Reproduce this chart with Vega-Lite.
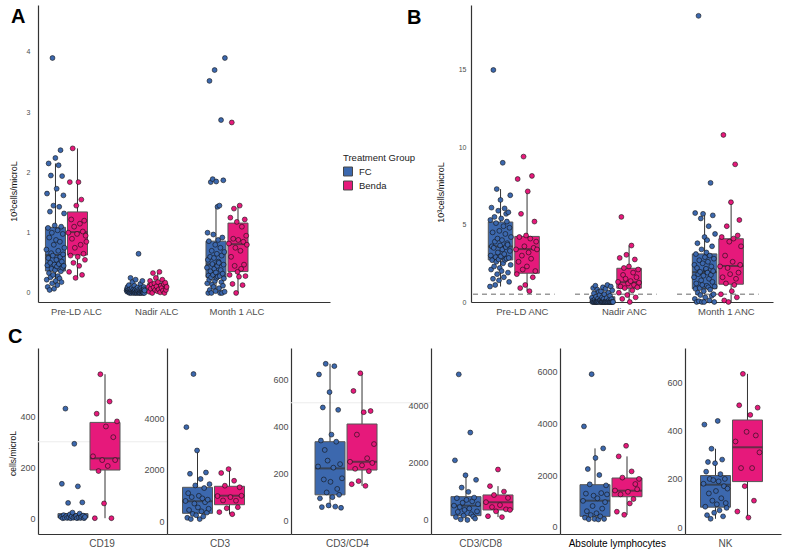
{
"$schema":"https://vega.github.io/schema/vega-lite/v6.json",
"padding":{"left":8,"top":5,"right":5,"bottom":5},
"background":"white",
"spacing":11,
"datasets":{
"boxA":[
{"c":"Pre-LD ALC","g":"FC","lo":0.05,"q1":0.365,"md":0.63,"q3":1.09,"hi":2.15},
{"c":"Pre-LD ALC","g":"Benda","lo":0.25,"q1":0.63,"md":1.01,"q3":1.345,"hi":2.4},
{"c":"Nadir ALC","g":"FC","lo":0,"q1":0,"md":0.03,"q3":0.06,"hi":0.15},
{"c":"Nadir ALC","g":"Benda","lo":0,"q1":0.05,"md":0.1,"q3":0.16,"hi":0.33},
{"c":"Month 1 ALC","g":"FC","lo":0,"q1":0.26,"md":0.475,"q3":0.86,"hi":1.43},
{"c":"Month 1 ALC","g":"Benda","lo":0,"q1":0.355,"md":0.81,"q3":1.16,"hi":1.45}
],
"boxB":[
{"c":"Pre-LD ANC","g":"FC","lo":1.0,"q1":2.72,"md":3.59,"q3":5.17,"hi":7.3},
{"c":"Pre-LD ANC","g":"Benda","lo":0.7,"q1":1.86,"md":3.42,"q3":4.24,"hi":7.15},
{"c":"Nadir ANC","g":"FC","lo":0,"q1":0,"md":0.05,"q3":0.34,"hi":0.8},
{"c":"Nadir ANC","g":"Benda","lo":0,"q1":0.89,"md":1.28,"q3":2.18,"hi":3.65},
{"c":"Month 1 ANC","g":"FC","lo":0,"q1":0.86,"md":1.93,"q3":3.11,"hi":5.75},
{"c":"Month 1 ANC","g":"Benda","lo":0,"q1":1.15,"md":2.33,"q3":4.09,"hi":6.45}
],
"boxC":[
{"c":"CD19","g":"FC","lo":0,"q1":2,"md":7,"q3":18,"hi":22},
{"c":"CD19","g":"Benda","lo":0,"q1":189,"md":235,"q3":376,"hi":565},
{"c":"CD3","g":"FC","lo":100,"q1":324,"md":788,"q3":1328,"hi":2750},
{"c":"CD3","g":"Benda","lo":290,"q1":656,"md":1004,"q3":1367,"hi":2030},
{"c":"CD3/CD4","g":"FC","lo":55,"q1":110,"md":222,"q3":335,"hi":665},
{"c":"CD3/CD4","g":"Benda","lo":148,"q1":215,"md":250,"q3":410,"hi":625},
{"c":"CD3/CD8","g":"FC","lo":0,"q1":150,"md":499,"q3":813,"hi":1560},
{"c":"CD3/CD8","g":"Benda","lo":100,"q1":349,"md":618,"q3":872,"hi":1180},
{"c":"Absolute lymphocytes","g":"FC","lo":280,"q1":402,"md":1006,"q3":1625,"hi":3030},
{"c":"Absolute lymphocytes","g":"Benda","lo":460,"q1":1160,"md":1393,"q3":1884,"hi":2720},
{"c":"NK","g":"FC","lo":35,"q1":83,"md":176,"q3":214,"hi":325},
{"c":"NK","g":"Benda","lo":40,"q1":189,"md":331,"q3":444,"hi":635}
],
"ptsA":[
{"c":"Pre-LD ALC","g":"FC","v":0.72},{"c":"Pre-LD ALC","g":"FC","v":0.22},{"c":"Pre-LD ALC","g":"FC","v":1.65},{"c":"Pre-LD ALC","g":"FC","v":0.46},{"c":"Pre-LD ALC","g":"FC","v":0.1},{"c":"Pre-LD ALC","g":"FC","v":1.08},{"c":"Pre-LD ALC","g":"FC","v":0.58},{"c":"Pre-LD ALC","g":"FC","v":2.15},{"c":"Pre-LD ALC","g":"FC","v":0.33},{"c":"Pre-LD ALC","g":"FC","v":0.92},
{"c":"Pre-LD ALC","g":"FC","v":0.05},{"c":"Pre-LD ALC","g":"FC","v":1.35},{"c":"Pre-LD ALC","g":"FC","v":0.5},{"c":"Pre-LD ALC","g":"FC","v":0.26},{"c":"Pre-LD ALC","g":"FC","v":1.95},{"c":"Pre-LD ALC","g":"FC","v":0.66},{"c":"Pre-LD ALC","g":"FC","v":0.4},{"c":"Pre-LD ALC","g":"FC","v":1.0},{"c":"Pre-LD ALC","g":"FC","v":0.16},{"c":"Pre-LD ALC","g":"FC","v":3.9},
{"c":"Pre-LD ALC","g":"FC","v":0.62},{"c":"Pre-LD ALC","g":"FC","v":0.3},{"c":"Pre-LD ALC","g":"FC","v":1.45},{"c":"Pre-LD ALC","g":"FC","v":0.8},{"c":"Pre-LD ALC","g":"FC","v":0.07},{"c":"Pre-LD ALC","g":"FC","v":0.47},{"c":"Pre-LD ALC","g":"FC","v":1.12},{"c":"Pre-LD ALC","g":"FC","v":0.38},{"c":"Pre-LD ALC","g":"FC","v":2.24},{"c":"Pre-LD ALC","g":"FC","v":0.2},
{"c":"Pre-LD ALC","g":"FC","v":0.88},{"c":"Pre-LD ALC","g":"FC","v":0.55},{"c":"Pre-LD ALC","g":"FC","v":1.73},{"c":"Pre-LD ALC","g":"FC","v":0.44},{"c":"Pre-LD ALC","g":"FC","v":0.13},{"c":"Pre-LD ALC","g":"FC","v":1.04},{"c":"Pre-LD ALC","g":"FC","v":0.28},{"c":"Pre-LD ALC","g":"FC","v":0.7},{"c":"Pre-LD ALC","g":"FC","v":2.12},{"c":"Pre-LD ALC","g":"FC","v":0.48},
{"c":"Pre-LD ALC","g":"FC","v":1.43},{"c":"Pre-LD ALC","g":"FC","v":0.24},{"c":"Pre-LD ALC","g":"FC","v":0.85},{"c":"Pre-LD ALC","g":"FC","v":0.6},{"c":"Pre-LD ALC","g":"FC","v":2.37},{"c":"Pre-LD ALC","g":"FC","v":0.36},{"c":"Pre-LD ALC","g":"FC","v":1.1},{"c":"Pre-LD ALC","g":"FC","v":0.18},{"c":"Pre-LD ALC","g":"FC","v":0.52},{"c":"Pre-LD ALC","g":"FC","v":1.94},
{"c":"Pre-LD ALC","g":"FC","v":0.42},{"c":"Pre-LD ALC","g":"FC","v":0.98},{"c":"Pre-LD ALC","g":"FC","v":0.64},{"c":"Pre-LD ALC","g":"FC","v":1.62},{"c":"Pre-LD ALC","g":"FC","v":0.45},{"c":"Pre-LD ALC","g":"FC","v":1.32},{"c":"Pre-LD ALC","g":"FC","v":0.75},
{"c":"Pre-LD ALC","g":"Benda","v":1.0},{"c":"Pre-LD ALC","g":"Benda","v":0.35},{"c":"Pre-LD ALC","g":"Benda","v":1.84},{"c":"Pre-LD ALC","g":"Benda","v":0.62},{"c":"Pre-LD ALC","g":"Benda","v":1.22},{"c":"Pre-LD ALC","g":"Benda","v":0.9},{"c":"Pre-LD ALC","g":"Benda","v":2.4},{"c":"Pre-LD ALC","g":"Benda","v":0.5},{"c":"Pre-LD ALC","g":"Benda","v":1.1},{"c":"Pre-LD ALC","g":"Benda","v":0.75},
{"c":"Pre-LD ALC","g":"Benda","v":0.25},{"c":"Pre-LD ALC","g":"Benda","v":1.45},{"c":"Pre-LD ALC","g":"Benda","v":0.98},{"c":"Pre-LD ALC","g":"Benda","v":0.6},{"c":"Pre-LD ALC","g":"Benda","v":1.84},{"c":"Pre-LD ALC","g":"Benda","v":0.45},{"c":"Pre-LD ALC","g":"Benda","v":1.15},{"c":"Pre-LD ALC","g":"Benda","v":0.8},{"c":"Pre-LD ALC","g":"Benda","v":1.55},{"c":"Pre-LD ALC","g":"Benda","v":0.3},
{"c":"Pre-LD ALC","g":"Benda","v":1.02},{"c":"Pre-LD ALC","g":"Benda","v":0.65},{"c":"Pre-LD ALC","g":"Benda","v":1.2},{"c":"Pre-LD ALC","g":"Benda","v":0.55},{"c":"Pre-LD ALC","g":"Benda","v":0.95},{"c":"Pre-LD ALC","g":"Benda","v":0.85},
{"c":"Nadir ALC","g":"FC","v":0.04},{"c":"Nadir ALC","g":"FC","v":0.07},{"c":"Nadir ALC","g":"FC","v":0.02},{"c":"Nadir ALC","g":"FC","v":0.1},{"c":"Nadir ALC","g":"FC","v":0.04},{"c":"Nadir ALC","g":"FC","v":0.05},{"c":"Nadir ALC","g":"FC","v":0.02},{"c":"Nadir ALC","g":"FC","v":0.13},{"c":"Nadir ALC","g":"FC","v":0.03},{"c":"Nadir ALC","g":"FC","v":0},
{"c":"Nadir ALC","g":"FC","v":0.06},{"c":"Nadir ALC","g":"FC","v":0.01},{"c":"Nadir ALC","g":"FC","v":0.25},{"c":"Nadir ALC","g":"FC","v":0.03},{"c":"Nadir ALC","g":"FC","v":0.05},{"c":"Nadir ALC","g":"FC","v":0},{"c":"Nadir ALC","g":"FC","v":0.08},{"c":"Nadir ALC","g":"FC","v":0.02},{"c":"Nadir ALC","g":"FC","v":0.18},{"c":"Nadir ALC","g":"FC","v":0.04},
{"c":"Nadir ALC","g":"FC","v":0.01},{"c":"Nadir ALC","g":"FC","v":0.06},{"c":"Nadir ALC","g":"FC","v":0},{"c":"Nadir ALC","g":"FC","v":0.02},{"c":"Nadir ALC","g":"FC","v":0.12},{"c":"Nadir ALC","g":"FC","v":0.03},{"c":"Nadir ALC","g":"FC","v":0.05},{"c":"Nadir ALC","g":"FC","v":0},{"c":"Nadir ALC","g":"FC","v":0.22},{"c":"Nadir ALC","g":"FC","v":0.01},
{"c":"Nadir ALC","g":"FC","v":0.07},{"c":"Nadir ALC","g":"FC","v":0.02},{"c":"Nadir ALC","g":"FC","v":0},{"c":"Nadir ALC","g":"FC","v":0.05},{"c":"Nadir ALC","g":"FC","v":0.09},{"c":"Nadir ALC","g":"FC","v":0.01},{"c":"Nadir ALC","g":"FC","v":0.03},{"c":"Nadir ALC","g":"FC","v":0.65},{"c":"Nadir ALC","g":"FC","v":0},{"c":"Nadir ALC","g":"FC","v":0.06},
{"c":"Nadir ALC","g":"FC","v":0.01},{"c":"Nadir ALC","g":"FC","v":0.04},{"c":"Nadir ALC","g":"FC","v":0},{"c":"Nadir ALC","g":"FC","v":0.15},{"c":"Nadir ALC","g":"FC","v":0.03},{"c":"Nadir ALC","g":"FC","v":0.08},{"c":"Nadir ALC","g":"FC","v":0},{"c":"Nadir ALC","g":"FC","v":0.02},{"c":"Nadir ALC","g":"FC","v":0.05},{"c":"Nadir ALC","g":"FC","v":0.2},
{"c":"Nadir ALC","g":"FC","v":0.03},{"c":"Nadir ALC","g":"FC","v":0.01},{"c":"Nadir ALC","g":"FC","v":0},{"c":"Nadir ALC","g":"FC","v":0.1},{"c":"Nadir ALC","g":"FC","v":0.06},{"c":"Nadir ALC","g":"FC","v":0},{"c":"Nadir ALC","g":"FC","v":0.04},
{"c":"Nadir ALC","g":"Benda","v":0.1},{"c":"Nadir ALC","g":"Benda","v":0.02},{"c":"Nadir ALC","g":"Benda","v":0.2},{"c":"Nadir ALC","g":"Benda","v":0.07},{"c":"Nadir ALC","g":"Benda","v":0.14},{"c":"Nadir ALC","g":"Benda","v":0},{"c":"Nadir ALC","g":"Benda","v":0.33},{"c":"Nadir ALC","g":"Benda","v":0.09},{"c":"Nadir ALC","g":"Benda","v":0.16},{"c":"Nadir ALC","g":"Benda","v":0.05},
{"c":"Nadir ALC","g":"Benda","v":0.25},{"c":"Nadir ALC","g":"Benda","v":0.11},{"c":"Nadir ALC","g":"Benda","v":0.03},{"c":"Nadir ALC","g":"Benda","v":0.18},{"c":"Nadir ALC","g":"Benda","v":0.06},{"c":"Nadir ALC","g":"Benda","v":0.35},{"c":"Nadir ALC","g":"Benda","v":0.01},{"c":"Nadir ALC","g":"Benda","v":0.12},{"c":"Nadir ALC","g":"Benda","v":0.08},{"c":"Nadir ALC","g":"Benda","v":0.22},
{"c":"Nadir ALC","g":"Benda","v":0.04},{"c":"Nadir ALC","g":"Benda","v":0.15},{"c":"Nadir ALC","g":"Benda","v":0},{"c":"Nadir ALC","g":"Benda","v":0.17},{"c":"Nadir ALC","g":"Benda","v":0.05},{"c":"Nadir ALC","g":"Benda","v":0.1},
{"c":"Month 1 ALC","g":"FC","v":0.42},{"c":"Month 1 ALC","g":"FC","v":0.16},{"c":"Month 1 ALC","g":"FC","v":1.0},{"c":"Month 1 ALC","g":"FC","v":0.55},{"c":"Month 1 ALC","g":"FC","v":0},{"c":"Month 1 ALC","g":"FC","v":0.29},{"c":"Month 1 ALC","g":"FC","v":0.86},{"c":"Month 1 ALC","g":"FC","v":0.22},{"c":"Month 1 ALC","g":"FC","v":3.52},{"c":"Month 1 ALC","g":"FC","v":0.05},
{"c":"Month 1 ALC","g":"FC","v":0.6},{"c":"Month 1 ALC","g":"FC","v":0.36},{"c":"Month 1 ALC","g":"FC","v":1.84},{"c":"Month 1 ALC","g":"FC","v":0.26},{"c":"Month 1 ALC","g":"FC","v":0},{"c":"Month 1 ALC","g":"FC","v":0.7},{"c":"Month 1 ALC","g":"FC","v":0.14},{"c":"Month 1 ALC","g":"FC","v":0.48},{"c":"Month 1 ALC","g":"FC","v":1.89},{"c":"Month 1 ALC","g":"FC","v":0.3},
{"c":"Month 1 ALC","g":"FC","v":0.97},{"c":"Month 1 ALC","g":"FC","v":0.1},{"c":"Month 1 ALC","g":"FC","v":0.58},{"c":"Month 1 ALC","g":"FC","v":0.4},{"c":"Month 1 ALC","g":"FC","v":3.7},{"c":"Month 1 ALC","g":"FC","v":0.2},{"c":"Month 1 ALC","g":"FC","v":0.8},{"c":"Month 1 ALC","g":"FC","v":0.03},{"c":"Month 1 ALC","g":"FC","v":0.34},{"c":"Month 1 ALC","g":"FC","v":1.85},
{"c":"Month 1 ALC","g":"FC","v":0.25},{"c":"Month 1 ALC","g":"FC","v":0.65},{"c":"Month 1 ALC","g":"FC","v":0.45},{"c":"Month 1 ALC","g":"FC","v":1.43},{"c":"Month 1 ALC","g":"FC","v":0.27},{"c":"Month 1 ALC","g":"FC","v":0.88},{"c":"Month 1 ALC","g":"FC","v":0.52},{"c":"Month 1 ALC","g":"FC","v":0.5},{"c":"Month 1 ALC","g":"FC","v":0.08},{"c":"Month 1 ALC","g":"FC","v":1.45},
{"c":"Month 1 ALC","g":"FC","v":0.28},{"c":"Month 1 ALC","g":"FC","v":0},{"c":"Month 1 ALC","g":"FC","v":0.75},{"c":"Month 1 ALC","g":"FC","v":0.38},{"c":"Month 1 ALC","g":"FC","v":2.87},{"c":"Month 1 ALC","g":"FC","v":0.18},{"c":"Month 1 ALC","g":"FC","v":0.62},{"c":"Month 1 ALC","g":"FC","v":0},{"c":"Month 1 ALC","g":"FC","v":0.92},{"c":"Month 1 ALC","g":"FC","v":0.32},
{"c":"Month 1 ALC","g":"FC","v":0.12},{"c":"Month 1 ALC","g":"FC","v":1.87},{"c":"Month 1 ALC","g":"FC","v":0.47},{"c":"Month 1 ALC","g":"FC","v":0.24},{"c":"Month 1 ALC","g":"FC","v":0.68},{"c":"Month 1 ALC","g":"FC","v":0.02},{"c":"Month 1 ALC","g":"FC","v":3.9},
{"c":"Month 1 ALC","g":"Benda","v":0.82},{"c":"Month 1 ALC","g":"Benda","v":0.3},{"c":"Month 1 ALC","g":"Benda","v":1.25},{"c":"Month 1 ALC","g":"Benda","v":0.6},{"c":"Month 1 ALC","g":"Benda","v":2.83},{"c":"Month 1 ALC","g":"Benda","v":0.15},{"c":"Month 1 ALC","g":"Benda","v":0.9},{"c":"Month 1 ALC","g":"Benda","v":1.4},{"c":"Month 1 ALC","g":"Benda","v":0.45},{"c":"Month 1 ALC","g":"Benda","v":0.75},
{"c":"Month 1 ALC","g":"Benda","v":0},{"c":"Month 1 ALC","g":"Benda","v":1.18},{"c":"Month 1 ALC","g":"Benda","v":0.35},{"c":"Month 1 ALC","g":"Benda","v":0.88},{"c":"Month 1 ALC","g":"Benda","v":0.27},{"c":"Month 1 ALC","g":"Benda","v":1.45},{"c":"Month 1 ALC","g":"Benda","v":0.7},{"c":"Month 1 ALC","g":"Benda","v":0.4},{"c":"Month 1 ALC","g":"Benda","v":1.1},{"c":"Month 1 ALC","g":"Benda","v":0.13},
{"c":"Month 1 ALC","g":"Benda","v":0.85},{"c":"Month 1 ALC","g":"Benda","v":0.47},{"c":"Month 1 ALC","g":"Benda","v":1.22},{"c":"Month 1 ALC","g":"Benda","v":0.28},{"c":"Month 1 ALC","g":"Benda","v":0.95},{"c":"Month 1 ALC","g":"Benda","v":0.8}
],
"ptsB":[
{"c":"Pre-LD ANC","g":"FC","v":1.0},{"c":"Pre-LD ANC","g":"FC","v":5.3},{"c":"Pre-LD ANC","g":"FC","v":3.0},{"c":"Pre-LD ANC","g":"FC","v":2.1},{"c":"Pre-LD ANC","g":"FC","v":6.1},{"c":"Pre-LD ANC","g":"FC","v":3.6},{"c":"Pre-LD ANC","g":"FC","v":2.7},{"c":"Pre-LD ANC","g":"FC","v":4.5},{"c":"Pre-LD ANC","g":"FC","v":1.5},{"c":"Pre-LD ANC","g":"FC","v":15.0},
{"c":"Pre-LD ANC","g":"FC","v":3.5},{"c":"Pre-LD ANC","g":"FC","v":2.3},{"c":"Pre-LD ANC","g":"FC","v":5.5},{"c":"Pre-LD ANC","g":"FC","v":3.9},{"c":"Pre-LD ANC","g":"FC","v":1.1},{"c":"Pre-LD ANC","g":"FC","v":2.9},{"c":"Pre-LD ANC","g":"FC","v":5.1},{"c":"Pre-LD ANC","g":"FC","v":2.6},{"c":"Pre-LD ANC","g":"FC","v":7.3},{"c":"Pre-LD ANC","g":"FC","v":1.8},
{"c":"Pre-LD ANC","g":"FC","v":4.1},{"c":"Pre-LD ANC","g":"FC","v":3.2},{"c":"Pre-LD ANC","g":"FC","v":5.9},{"c":"Pre-LD ANC","g":"FC","v":2.75},{"c":"Pre-LD ANC","g":"FC","v":1.4},{"c":"Pre-LD ANC","g":"FC","v":4.6},{"c":"Pre-LD ANC","g":"FC","v":2.2},{"c":"Pre-LD ANC","g":"FC","v":3.65},{"c":"Pre-LD ANC","g":"FC","v":6.6},{"c":"Pre-LD ANC","g":"FC","v":2.95},
{"c":"Pre-LD ANC","g":"FC","v":5.4},{"c":"Pre-LD ANC","g":"FC","v":2.0},{"c":"Pre-LD ANC","g":"FC","v":4.0},{"c":"Pre-LD ANC","g":"FC","v":3.4},{"c":"Pre-LD ANC","g":"FC","v":9.0},{"c":"Pre-LD ANC","g":"FC","v":2.5},{"c":"Pre-LD ANC","g":"FC","v":4.9},{"c":"Pre-LD ANC","g":"FC","v":1.6},{"c":"Pre-LD ANC","g":"FC","v":3.1},{"c":"Pre-LD ANC","g":"FC","v":6.05},
{"c":"Pre-LD ANC","g":"FC","v":2.72},{"c":"Pre-LD ANC","g":"FC","v":4.4},{"c":"Pre-LD ANC","g":"FC","v":3.55},{"c":"Pre-LD ANC","g":"FC","v":5.7},{"c":"Pre-LD ANC","g":"FC","v":2.8},{"c":"Pre-LD ANC","g":"FC","v":5.2},{"c":"Pre-LD ANC","g":"FC","v":3.8},{"c":"Pre-LD ANC","g":"FC","v":3.7},{"c":"Pre-LD ANC","g":"FC","v":1.9},{"c":"Pre-LD ANC","g":"FC","v":5.8},
{"c":"Pre-LD ANC","g":"FC","v":2.85},{"c":"Pre-LD ANC","g":"FC","v":1.3},{"c":"Pre-LD ANC","g":"FC","v":4.8},{"c":"Pre-LD ANC","g":"FC","v":3.3},{"c":"Pre-LD ANC","g":"FC","v":6.9},{"c":"Pre-LD ANC","g":"FC","v":2.4},{"c":"Pre-LD ANC","g":"FC","v":4.2},
{"c":"Pre-LD ANC","g":"Benda","v":3.4},{"c":"Pre-LD ANC","g":"Benda","v":1.8},{"c":"Pre-LD ANC","g":"Benda","v":7.95},{"c":"Pre-LD ANC","g":"Benda","v":2.6},{"c":"Pre-LD ANC","g":"Benda","v":4.2},{"c":"Pre-LD ANC","g":"Benda","v":0.9},{"c":"Pre-LD ANC","g":"Benda","v":5.7},{"c":"Pre-LD ANC","g":"Benda","v":3.0},{"c":"Pre-LD ANC","g":"Benda","v":2.1},{"c":"Pre-LD ANC","g":"Benda","v":9.4},
{"c":"Pre-LD ANC","g":"Benda","v":3.6},{"c":"Pre-LD ANC","g":"Benda","v":1.1},{"c":"Pre-LD ANC","g":"Benda","v":4.3},{"c":"Pre-LD ANC","g":"Benda","v":2.3},{"c":"Pre-LD ANC","g":"Benda","v":7.15},{"c":"Pre-LD ANC","g":"Benda","v":3.2},{"c":"Pre-LD ANC","g":"Benda","v":0.7},{"c":"Pre-LD ANC","g":"Benda","v":4.1},{"c":"Pre-LD ANC","g":"Benda","v":2.8},{"c":"Pre-LD ANC","g":"Benda","v":8.15},
{"c":"Pre-LD ANC","g":"Benda","v":1.6},{"c":"Pre-LD ANC","g":"Benda","v":3.5},{"c":"Pre-LD ANC","g":"Benda","v":5.2},{"c":"Pre-LD ANC","g":"Benda","v":2.0},{"c":"Pre-LD ANC","g":"Benda","v":3.9},{"c":"Pre-LD ANC","g":"Benda","v":3.4},
{"c":"Nadir ANC","g":"FC","v":0.28},{"c":"Nadir ANC","g":"FC","v":0},{"c":"Nadir ANC","g":"FC","v":0.08},{"c":"Nadir ANC","g":"FC","v":0.9},{"c":"Nadir ANC","g":"FC","v":0},{"c":"Nadir ANC","g":"FC","v":0.55},{"c":"Nadir ANC","g":"FC","v":0},{"c":"Nadir ANC","g":"FC","v":0.15},{"c":"Nadir ANC","g":"FC","v":0.02},{"c":"Nadir ANC","g":"FC","v":1.05},
{"c":"Nadir ANC","g":"FC","v":0},{"c":"Nadir ANC","g":"FC","v":0.35},{"c":"Nadir ANC","g":"FC","v":0},{"c":"Nadir ANC","g":"FC","v":0.01},{"c":"Nadir ANC","g":"FC","v":0.8},{"c":"Nadir ANC","g":"FC","v":0},{"c":"Nadir ANC","g":"FC","v":0.22},{"c":"Nadir ANC","g":"FC","v":0.04},{"c":"Nadir ANC","g":"FC","v":0.65},{"c":"Nadir ANC","g":"FC","v":0},
{"c":"Nadir ANC","g":"FC","v":0.45},{"c":"Nadir ANC","g":"FC","v":0.1},{"c":"Nadir ANC","g":"FC","v":0.1},{"c":"Nadir ANC","g":"FC","v":0},{"c":"Nadir ANC","g":"FC","v":0.7},{"c":"Nadir ANC","g":"FC","v":0},{"c":"Nadir ANC","g":"FC","v":0},{"c":"Nadir ANC","g":"FC","v":0.3},{"c":"Nadir ANC","g":"FC","v":0.02},{"c":"Nadir ANC","g":"FC","v":0.95},
{"c":"Nadir ANC","g":"FC","v":0},{"c":"Nadir ANC","g":"FC","v":0.2},{"c":"Nadir ANC","g":"FC","v":0},{"c":"Nadir ANC","g":"FC","v":0.5},{"c":"Nadir ANC","g":"FC","v":0},{"c":"Nadir ANC","g":"FC","v":0},{"c":"Nadir ANC","g":"FC","v":0.85},{"c":"Nadir ANC","g":"FC","v":0.05},{"c":"Nadir ANC","g":"FC","v":0},{"c":"Nadir ANC","g":"FC","v":0.25},
{"c":"Nadir ANC","g":"FC","v":0},{"c":"Nadir ANC","g":"FC","v":1.1},{"c":"Nadir ANC","g":"FC","v":0.03},{"c":"Nadir ANC","g":"FC","v":0},{"c":"Nadir ANC","g":"FC","v":0.6},{"c":"Nadir ANC","g":"FC","v":0.12},{"c":"Nadir ANC","g":"FC","v":0},{"c":"Nadir ANC","g":"FC","v":0},{"c":"Nadir ANC","g":"FC","v":0.4},{"c":"Nadir ANC","g":"FC","v":0},
{"c":"Nadir ANC","g":"FC","v":1.0},{"c":"Nadir ANC","g":"FC","v":0},{"c":"Nadir ANC","g":"FC","v":0.18},{"c":"Nadir ANC","g":"FC","v":0.01},{"c":"Nadir ANC","g":"FC","v":0.75},{"c":"Nadir ANC","g":"FC","v":0},{"c":"Nadir ANC","g":"FC","v":0},
{"c":"Nadir ANC","g":"Benda","v":1.3},{"c":"Nadir ANC","g":"Benda","v":0.6},{"c":"Nadir ANC","g":"Benda","v":2.85},{"c":"Nadir ANC","g":"Benda","v":1.0},{"c":"Nadir ANC","g":"Benda","v":5.5},{"c":"Nadir ANC","g":"Benda","v":0.2},{"c":"Nadir ANC","g":"Benda","v":1.75},{"c":"Nadir ANC","g":"Benda","v":2.2},{"c":"Nadir ANC","g":"Benda","v":0.9},{"c":"Nadir ANC","g":"Benda","v":1.5},
{"c":"Nadir ANC","g":"Benda","v":3.05},{"c":"Nadir ANC","g":"Benda","v":0.45},{"c":"Nadir ANC","g":"Benda","v":1.2},{"c":"Nadir ANC","g":"Benda","v":2.3},{"c":"Nadir ANC","g":"Benda","v":0},{"c":"Nadir ANC","g":"Benda","v":1.35},{"c":"Nadir ANC","g":"Benda","v":3.65},{"c":"Nadir ANC","g":"Benda","v":0.75},{"c":"Nadir ANC","g":"Benda","v":1.9},{"c":"Nadir ANC","g":"Benda","v":1.1},
{"c":"Nadir ANC","g":"Benda","v":2.75},{"c":"Nadir ANC","g":"Benda","v":0.3},{"c":"Nadir ANC","g":"Benda","v":1.6},{"c":"Nadir ANC","g":"Benda","v":0.95},{"c":"Nadir ANC","g":"Benda","v":2.1},{"c":"Nadir ANC","g":"Benda","v":1.25},
{"c":"Month 1 ANC","g":"FC","v":1.6},{"c":"Month 1 ANC","g":"FC","v":2.4},{"c":"Month 1 ANC","g":"FC","v":0.2},{"c":"Month 1 ANC","g":"FC","v":5.75},{"c":"Month 1 ANC","g":"FC","v":0.85},{"c":"Month 1 ANC","g":"FC","v":3.1},{"c":"Month 1 ANC","g":"FC","v":1.2},{"c":"Month 1 ANC","g":"FC","v":0},{"c":"Month 1 ANC","g":"FC","v":2.2},{"c":"Month 1 ANC","g":"FC","v":3.8},
{"c":"Month 1 ANC","g":"FC","v":0.6},{"c":"Month 1 ANC","g":"FC","v":1.8},{"c":"Month 1 ANC","g":"FC","v":18.5},{"c":"Month 1 ANC","g":"FC","v":0.05},{"c":"Month 1 ANC","g":"FC","v":2.7},{"c":"Month 1 ANC","g":"FC","v":0.9},{"c":"Month 1 ANC","g":"FC","v":1.95},{"c":"Month 1 ANC","g":"FC","v":0.45},{"c":"Month 1 ANC","g":"FC","v":5.4},{"c":"Month 1 ANC","g":"FC","v":1.4},
{"c":"Month 1 ANC","g":"FC","v":3.4},{"c":"Month 1 ANC","g":"FC","v":0},{"c":"Month 1 ANC","g":"FC","v":1.1},{"c":"Month 1 ANC","g":"FC","v":2.5},{"c":"Month 1 ANC","g":"FC","v":5.7},{"c":"Month 1 ANC","g":"FC","v":1.7},{"c":"Month 1 ANC","g":"FC","v":0.7},{"c":"Month 1 ANC","g":"FC","v":0},{"c":"Month 1 ANC","g":"FC","v":4.2},{"c":"Month 1 ANC","g":"FC","v":2.9},
{"c":"Month 1 ANC","g":"FC","v":0.3},{"c":"Month 1 ANC","g":"FC","v":2.1},{"c":"Month 1 ANC","g":"FC","v":2.15},{"c":"Month 1 ANC","g":"FC","v":3.2},{"c":"Month 1 ANC","g":"FC","v":1.05},{"c":"Month 1 ANC","g":"FC","v":4.0},{"c":"Month 1 ANC","g":"FC","v":1.9},{"c":"Month 1 ANC","g":"FC","v":2.6},{"c":"Month 1 ANC","g":"FC","v":0.95},{"c":"Month 1 ANC","g":"FC","v":4.9},
{"c":"Month 1 ANC","g":"FC","v":1.5},{"c":"Month 1 ANC","g":"FC","v":0.1},{"c":"Month 1 ANC","g":"FC","v":3.0},{"c":"Month 1 ANC","g":"FC","v":0.8},{"c":"Month 1 ANC","g":"FC","v":7.7},{"c":"Month 1 ANC","g":"FC","v":1.75},{"c":"Month 1 ANC","g":"FC","v":2.3},{"c":"Month 1 ANC","g":"FC","v":0.4},{"c":"Month 1 ANC","g":"FC","v":3.6},{"c":"Month 1 ANC","g":"FC","v":1.3},
{"c":"Month 1 ANC","g":"FC","v":5.6},{"c":"Month 1 ANC","g":"FC","v":2.0},{"c":"Month 1 ANC","g":"FC","v":0.5},{"c":"Month 1 ANC","g":"FC","v":2.8},{"c":"Month 1 ANC","g":"FC","v":0},{"c":"Month 1 ANC","g":"FC","v":1.0},{"c":"Month 1 ANC","g":"FC","v":4.4},
{"c":"Month 1 ANC","g":"Benda","v":2.3},{"c":"Month 1 ANC","g":"Benda","v":0.5},{"c":"Month 1 ANC","g":"Benda","v":4.2},{"c":"Month 1 ANC","g":"Benda","v":1.6},{"c":"Month 1 ANC","g":"Benda","v":10.8},{"c":"Month 1 ANC","g":"Benda","v":0.1},{"c":"Month 1 ANC","g":"Benda","v":3.0},{"c":"Month 1 ANC","g":"Benda","v":1.2},{"c":"Month 1 ANC","g":"Benda","v":4.9},{"c":"Month 1 ANC","g":"Benda","v":2.2},
{"c":"Month 1 ANC","g":"Benda","v":0},{"c":"Month 1 ANC","g":"Benda","v":3.9},{"c":"Month 1 ANC","g":"Benda","v":1.8},{"c":"Month 1 ANC","g":"Benda","v":6.45},{"c":"Month 1 ANC","g":"Benda","v":0.7},{"c":"Month 1 ANC","g":"Benda","v":2.6},{"c":"Month 1 ANC","g":"Benda","v":4.1},{"c":"Month 1 ANC","g":"Benda","v":1.1},{"c":"Month 1 ANC","g":"Benda","v":8.9},{"c":"Month 1 ANC","g":"Benda","v":1.5},
{"c":"Month 1 ANC","g":"Benda","v":0.3},{"c":"Month 1 ANC","g":"Benda","v":4.3},{"c":"Month 1 ANC","g":"Benda","v":1.9},{"c":"Month 1 ANC","g":"Benda","v":5.3},{"c":"Month 1 ANC","g":"Benda","v":2.4},{"c":"Month 1 ANC","g":"Benda","v":3.6}
],
"ptsC":[
{"c":"CD19","g":"FC","v":5},{"c":"CD19","g":"FC","v":135},{"c":"CD19","g":"FC","v":0},{"c":"CD19","g":"FC","v":12},{"c":"CD19","g":"FC","v":2},{"c":"CD19","g":"FC","v":430},{"c":"CD19","g":"FC","v":8},{"c":"CD19","g":"FC","v":1},{"c":"CD19","g":"FC","v":60},{"c":"CD19","g":"FC","v":3},
{"c":"CD19","g":"FC","v":15},{"c":"CD19","g":"FC","v":0},{"c":"CD19","g":"FC","v":7},{"c":"CD19","g":"FC","v":22},{"c":"CD19","g":"FC","v":2},{"c":"CD19","g":"FC","v":292},{"c":"CD19","g":"FC","v":4},{"c":"CD19","g":"FC","v":9},{"c":"CD19","g":"FC","v":0},{"c":"CD19","g":"FC","v":125},
{"c":"CD19","g":"FC","v":3},{"c":"CD19","g":"FC","v":18},{"c":"CD19","g":"FC","v":1},{"c":"CD19","g":"FC","v":6},{"c":"CD19","g":"FC","v":62},{"c":"CD19","g":"FC","v":10},{"c":"CD19","g":"FC","v":0},{"c":"CD19","g":"FC","v":5},
{"c":"CD19","g":"Benda","v":243},{"c":"CD19","g":"Benda","v":0},{"c":"CD19","g":"Benda","v":410},{"c":"CD19","g":"Benda","v":185},{"c":"CD19","g":"Benda","v":565},{"c":"CD19","g":"Benda","v":228},{"c":"CD19","g":"Benda","v":58},{"c":"CD19","g":"Benda","v":360},{"c":"CD19","g":"Benda","v":205},{"c":"CD19","g":"Benda","v":458},
{"c":"CD19","g":"Benda","v":0},{"c":"CD19","g":"Benda","v":318},{"c":"CD19","g":"Benda","v":228},{"c":"CD19","g":"Benda","v":380},
{"c":"CD3","g":"FC","v":800},{"c":"CD3","g":"FC","v":3650},{"c":"CD3","g":"FC","v":150},{"c":"CD3","g":"FC","v":1100},{"c":"CD3","g":"FC","v":450},{"c":"CD3","g":"FC","v":1850},{"c":"CD3","g":"FC","v":100},{"c":"CD3","g":"FC","v":950},{"c":"CD3","g":"FC","v":300},{"c":"CD3","g":"FC","v":5700},
{"c":"CD3","g":"FC","v":700},{"c":"CD3","g":"FC","v":1400},{"c":"CD3","g":"FC","v":250},{"c":"CD3","g":"FC","v":2750},{"c":"CD3","g":"FC","v":550},{"c":"CD3","g":"FC","v":1000},{"c":"CD3","g":"FC","v":100},{"c":"CD3","g":"FC","v":1650},{"c":"CD3","g":"FC","v":400},{"c":"CD3","g":"FC","v":900},
{"c":"CD3","g":"FC","v":200},{"c":"CD3","g":"FC","v":1300},{"c":"CD3","g":"FC","v":750},{"c":"CD3","g":"FC","v":1900},{"c":"CD3","g":"FC","v":350},{"c":"CD3","g":"FC","v":850},{"c":"CD3","g":"FC","v":500},{"c":"CD3","g":"FC","v":1450},
{"c":"CD3","g":"Benda","v":990},{"c":"CD3","g":"Benda","v":370},{"c":"CD3","g":"Benda","v":1880},{"c":"CD3","g":"Benda","v":820},{"c":"CD3","g":"Benda","v":1390},{"c":"CD3","g":"Benda","v":520},{"c":"CD3","g":"Benda","v":2030},{"c":"CD3","g":"Benda","v":950},{"c":"CD3","g":"Benda","v":290},{"c":"CD3","g":"Benda","v":1580},
{"c":"CD3","g":"Benda","v":810},{"c":"CD3","g":"Benda","v":560},{"c":"CD3","g":"Benda","v":1330},{"c":"CD3","g":"Benda","v":1000},
{"c":"CD3/CD4","g":"FC","v":230},{"c":"CD3/CD4","g":"FC","v":620},{"c":"CD3/CD4","g":"FC","v":95},{"c":"CD3/CD4","g":"FC","v":340},{"c":"CD3/CD4","g":"FC","v":58},{"c":"CD3/CD4","g":"FC","v":480},{"c":"CD3/CD4","g":"FC","v":175},{"c":"CD3/CD4","g":"FC","v":300},{"c":"CD3/CD4","g":"FC","v":665},{"c":"CD3/CD4","g":"FC","v":120},
{"c":"CD3/CD4","g":"FC","v":255},{"c":"CD3/CD4","g":"FC","v":65},{"c":"CD3/CD4","g":"FC","v":545},{"c":"CD3/CD4","g":"FC","v":165},{"c":"CD3/CD4","g":"FC","v":365},{"c":"CD3/CD4","g":"FC","v":100},{"c":"CD3/CD4","g":"FC","v":225},{"c":"CD3/CD4","g":"FC","v":655},{"c":"CD3/CD4","g":"FC","v":60},{"c":"CD3/CD4","g":"FC","v":335},
{"c":"CD3/CD4","g":"FC","v":135},{"c":"CD3/CD4","g":"FC","v":470},{"c":"CD3/CD4","g":"FC","v":110},{"c":"CD3/CD4","g":"FC","v":240},{"c":"CD3/CD4","g":"FC","v":55},{"c":"CD3/CD4","g":"FC","v":180},
{"c":"CD3/CD4","g":"Benda","v":250},{"c":"CD3/CD4","g":"Benda","v":155},{"c":"CD3/CD4","g":"Benda","v":550},{"c":"CD3/CD4","g":"Benda","v":220},{"c":"CD3/CD4","g":"Benda","v":365},{"c":"CD3/CD4","g":"Benda","v":168},{"c":"CD3/CD4","g":"Benda","v":625},{"c":"CD3/CD4","g":"Benda","v":235},{"c":"CD3/CD4","g":"Benda","v":460},{"c":"CD3/CD4","g":"Benda","v":148},
{"c":"CD3/CD4","g":"Benda","v":265},{"c":"CD3/CD4","g":"Benda","v":210},{"c":"CD3/CD4","g":"Benda","v":465},{"c":"CD3/CD4","g":"Benda","v":245},{"c":"CD3/CD4","g":"Benda","v":325},
{"c":"CD3/CD8","g":"FC","v":500},{"c":"CD3/CD8","g":"FC","v":2080},{"c":"CD3/CD8","g":"FC","v":100},{"c":"CD3/CD8","g":"FC","v":760},{"c":"CD3/CD8","g":"FC","v":280},{"c":"CD3/CD8","g":"FC","v":5080},{"c":"CD3/CD8","g":"FC","v":450},{"c":"CD3/CD8","g":"FC","v":20},{"c":"CD3/CD8","g":"FC","v":1130},{"c":"CD3/CD8","g":"FC","v":600},
{"c":"CD3/CD8","g":"FC","v":150},{"c":"CD3/CD8","g":"FC","v":350},{"c":"CD3/CD8","g":"FC","v":1560},{"c":"CD3/CD8","g":"FC","v":700},{"c":"CD3/CD8","g":"FC","v":0},{"c":"CD3/CD8","g":"FC","v":980},{"c":"CD3/CD8","g":"FC","v":400},{"c":"CD3/CD8","g":"FC","v":3050},{"c":"CD3/CD8","g":"FC","v":200},{"c":"CD3/CD8","g":"FC","v":650},
{"c":"CD3/CD8","g":"FC","v":120},{"c":"CD3/CD8","g":"FC","v":780},{"c":"CD3/CD8","g":"FC","v":50},{"c":"CD3/CD8","g":"FC","v":1400},{"c":"CD3/CD8","g":"FC","v":300},{"c":"CD3/CD8","g":"FC","v":550},
{"c":"CD3/CD8","g":"Benda","v":620},{"c":"CD3/CD8","g":"Benda","v":130},{"c":"CD3/CD8","g":"Benda","v":1180},{"c":"CD3/CD8","g":"Benda","v":450},{"c":"CD3/CD8","g":"Benda","v":870},{"c":"CD3/CD8","g":"Benda","v":300},{"c":"CD3/CD8","g":"Benda","v":1760},{"c":"CD3/CD8","g":"Benda","v":520},{"c":"CD3/CD8","g":"Benda","v":100},{"c":"CD3/CD8","g":"Benda","v":990},
{"c":"CD3/CD8","g":"Benda","v":370},{"c":"CD3/CD8","g":"Benda","v":770},{"c":"CD3/CD8","g":"Benda","v":350},
{"c":"Absolute lymphocytes","g":"FC","v":1000},{"c":"Absolute lymphocytes","g":"FC","v":3880},{"c":"Absolute lymphocytes","g":"FC","v":350},{"c":"Absolute lymphocytes","g":"FC","v":1280},{"c":"Absolute lymphocytes","g":"FC","v":600},{"c":"Absolute lymphocytes","g":"FC","v":2230},{"c":"Absolute lymphocytes","g":"FC","v":290},{"c":"Absolute lymphocytes","g":"FC","v":1640},{"c":"Absolute lymphocytes","g":"FC","v":450},{"c":"Absolute lymphocytes","g":"FC","v":5900},
{"c":"Absolute lymphocytes","g":"FC","v":800},{"c":"Absolute lymphocytes","g":"FC","v":1200},{"c":"Absolute lymphocytes","g":"FC","v":300},{"c":"Absolute lymphocytes","g":"FC","v":2660},{"c":"Absolute lymphocytes","g":"FC","v":520},{"c":"Absolute lymphocytes","g":"FC","v":1100},{"c":"Absolute lymphocytes","g":"FC","v":280},{"c":"Absolute lymphocytes","g":"FC","v":2000},{"c":"Absolute lymphocytes","g":"FC","v":400},{"c":"Absolute lymphocytes","g":"FC","v":1300},
{"c":"Absolute lymphocytes","g":"FC","v":700},{"c":"Absolute lymphocytes","g":"FC","v":3030},{"c":"Absolute lymphocytes","g":"FC","v":300},{"c":"Absolute lymphocytes","g":"FC","v":950},{"c":"Absolute lymphocytes","g":"FC","v":1600},{"c":"Absolute lymphocytes","g":"FC","v":1250},
{"c":"Absolute lymphocytes","g":"Benda","v":1400},{"c":"Absolute lymphocytes","g":"Benda","v":580},{"c":"Absolute lymphocytes","g":"Benda","v":2720},{"c":"Absolute lymphocytes","g":"Benda","v":1250},{"c":"Absolute lymphocytes","g":"Benda","v":1900},{"c":"Absolute lymphocytes","g":"Benda","v":460},{"c":"Absolute lymphocytes","g":"Benda","v":3130},{"c":"Absolute lymphocytes","g":"Benda","v":1350},{"c":"Absolute lymphocytes","g":"Benda","v":900},{"c":"Absolute lymphocytes","g":"Benda","v":2140},
{"c":"Absolute lymphocytes","g":"Benda","v":1070},{"c":"Absolute lymphocytes","g":"Benda","v":1650},{"c":"Absolute lymphocytes","g":"Benda","v":1450},{"c":"Absolute lymphocytes","g":"Benda","v":1850},
{"c":"NK","g":"FC","v":180},{"c":"NK","g":"FC","v":425},{"c":"NK","g":"FC","v":85},{"c":"NK","g":"FC","v":230},{"c":"NK","g":"FC","v":50},{"c":"NK","g":"FC","v":270},{"c":"NK","g":"FC","v":140},{"c":"NK","g":"FC","v":200},{"c":"NK","g":"FC","v":35},{"c":"NK","g":"FC","v":325},
{"c":"NK","g":"FC","v":110},{"c":"NK","g":"FC","v":195},{"c":"NK","g":"FC","v":60},{"c":"NK","g":"FC","v":265},{"c":"NK","g":"FC","v":150},{"c":"NK","g":"FC","v":95},{"c":"NK","g":"FC","v":440},{"c":"NK","g":"FC","v":190},{"c":"NK","g":"FC","v":70},{"c":"NK","g":"FC","v":220},
{"c":"NK","g":"FC","v":120},{"c":"NK","g":"FC","v":280},{"c":"NK","g":"FC","v":45},{"c":"NK","g":"FC","v":170},{"c":"NK","g":"FC","v":200},{"c":"NK","g":"FC","v":100},{"c":"NK","g":"FC","v":80},{"c":"NK","g":"FC","v":160},
{"c":"NK","g":"Benda","v":355},{"c":"NK","g":"Benda","v":65},{"c":"NK","g":"Benda","v":505},{"c":"NK","g":"Benda","v":245},{"c":"NK","g":"Benda","v":635},{"c":"NK","g":"Benda","v":170},{"c":"NK","g":"Benda","v":395},{"c":"NK","g":"Benda","v":40},{"c":"NK","g":"Benda","v":465},{"c":"NK","g":"Benda","v":245},
{"c":"NK","g":"Benda","v":110},{"c":"NK","g":"Benda","v":380},{"c":"NK","g":"Benda","v":495},{"c":"NK","g":"Benda","v":310}
]
},
"vconcat":[
{"hconcat":[
{"width":292,"height":297,
"title":{"text":"A","dx":-27,"dy":26},
"layer":[
{"data":{"name":"boxA"},"mark":"rule","encoding":{
"x":{"field":"c","type":"nominal","scale":{"domain":["Pre-LD ALC","Nadir ALC","Month 1 ALC"],"paddingInner":0.35,"paddingOuter":0.494,"align":0.03},"axis":{"title":null,"labelOffset":10}},
"xOffset":{"field":"g","type":"nominal","scale":{"domain":["FC","Benda"],"paddingInner":0.09,"paddingOuter":0.23}},
"y":{"field":"lo","type":"quantitative","scale":{"domain":[-0.15,4.78],"zero":false,"nice":false},"axis":{"values":[0,1,2,3,4],"format":"d","title":"10³cells/microL","titleX":-25,"titleY":186,"labelFontSize":7,"labelPadding":8}},
"y2":{"field":"hi"}}},
{"data":{"name":"boxA"},"mark":"bar","encoding":{
"x":{"field":"c","type":"nominal","scale":{"domain":["Pre-LD ALC","Nadir ALC","Month 1 ALC"]}},
"xOffset":{"field":"g","type":"nominal","scale":{"domain":["FC","Benda"],"paddingInner":0.09,"paddingOuter":0.23}},
"y":{"field":"q1","type":"quantitative"},"y2":{"field":"q3"},
"fill":{"field":"g","type":"nominal","scale":{"domain":["FC","Benda"],"range":["#3C68AE","#E6197B"]},
"legend":{"title":"Treatment Group","orient":"none","legendX":305,"legendY":148,"padding":0,"titleFontSize":9.5,"titleFontWeight":"normal","titleColor":"#222","labelFontSize":9.5,"labelColor":"#222","symbolType":"square","symbolSize":80,"symbolStrokeColor":"#444","symbolStrokeWidth":0.8,"rowPadding":0,"titlePadding":4,"labelOffset":6}}}},
{"data":{"name":"boxA"},"mark":{"type":"tick","size":20},"encoding":{
"x":{"field":"c","type":"nominal","scale":{"domain":["Pre-LD ALC","Nadir ALC","Month 1 ALC"]}},
"xOffset":{"field":"g","type":"nominal","scale":{"domain":["FC","Benda"],"paddingInner":0.09,"paddingOuter":0.23}},
"y":{"field":"md","type":"quantitative"}}},
{"data":{"name":"ptsA"},"transform":[{"filter":"datum.g=='FC'"},{"window":[{"op":"row_number","as":"i"}],"groupby":["c"]}],"mark":{"type":"circle","fill":"#3C68AE"},"encoding":{
"x":{"field":"c","type":"nominal","scale":{"domain":["Pre-LD ALC","Nadir ALC","Month 1 ALC"]}},
"xOffset":{"field":"i","type":"quantitative","scale":{"range":[6,24],"zero":false,"nice":false}},
"y":{"field":"v","type":"quantitative"}}},
{"data":{"name":"ptsA"},"transform":[{"filter":"datum.g=='Benda'"},{"window":[{"op":"row_number","as":"i"}],"groupby":["c"]}],"mark":{"type":"circle","fill":"#E6197B"},"encoding":{
"x":{"field":"c","type":"nominal","scale":{"domain":["Pre-LD ALC","Nadir ALC","Month 1 ALC"]}},
"xOffset":{"field":"i","type":"quantitative","scale":{"range":[28,46],"zero":false,"nice":false}},
"y":{"field":"v","type":"quantitative"}}}
],
"resolve":{"scale":{"xOffset":"independent"}}
},
{"width":302,"height":297,
"title":{"text":"B","dx":-64,"dy":27},
"layer":[
{"data":{"name":"boxB"},"mark":"rule","encoding":{
"x":{"field":"c","type":"nominal","scale":{"domain":["Pre-LD ANC","Nadir ANC","Month 1 ANC"],"paddingInner":0.2,"paddingOuter":0.08,"align":0.122},"axis":{"title":null,"labelOffset":8.5}},
"xOffset":{"field":"g","type":"nominal","scale":{"domain":["FC","Benda"],"paddingInner":0.075,"paddingOuter":0.577}},
"y":{"field":"lo","type":"quantitative","scale":{"domain":[0,19.2],"zero":false,"nice":false},"axis":{"values":[0,5,10,15],"format":"d","title":"10³cells/microL","titleX":-31,"titleY":187,"labelFontSize":7,"labelPadding":5}},
"y2":{"field":"hi"}}},
{"data":{"name":"boxB"},"mark":"bar","encoding":{
"x":{"field":"c","type":"nominal","scale":{"domain":["Pre-LD ANC","Nadir ANC","Month 1 ANC"]}},
"xOffset":{"field":"g","type":"nominal","scale":{"domain":["FC","Benda"],"paddingInner":0.075,"paddingOuter":0.577}},
"y":{"field":"q1","type":"quantitative"},"y2":{"field":"q3"},
"fill":{"field":"g","type":"nominal","scale":{"domain":["FC","Benda"],"range":["#3C68AE","#E6197B"]},"legend":null}}},
{"data":{"name":"boxB"},"mark":{"type":"tick","size":24.5},"encoding":{
"x":{"field":"c","type":"nominal","scale":{"domain":["Pre-LD ANC","Nadir ANC","Month 1 ANC"]}},
"xOffset":{"field":"g","type":"nominal","scale":{"domain":["FC","Benda"],"paddingInner":0.075,"paddingOuter":0.577}},
"y":{"field":"md","type":"quantitative"}}},
{"data":{"name":"boxB"},"transform":[{"filter":"datum.g=='FC'"}],"mark":{"type":"rule","strokeDash":[5,4],"color":"#9a9a9a","strokeWidth":1.5},"encoding":{
"x":{"field":"c","type":"nominal","bandPosition":0,"scale":{"domain":["Pre-LD ANC","Nadir ANC","Month 1 ANC"]}},
"x2":{"field":"c","bandPosition":1},
"y":{"datum":0.5,"type":"quantitative"}}},
{"data":{"name":"ptsB"},"transform":[{"filter":"datum.g=='FC'"},{"window":[{"op":"row_number","as":"i"}],"groupby":["c"]}],"mark":{"type":"circle","fill":"#3C68AE"},"encoding":{
"x":{"field":"c","type":"nominal","scale":{"domain":["Pre-LD ANC","Nadir ANC","Month 1 ANC"]}},
"xOffset":{"field":"i","type":"quantitative","scale":{"range":[17,38],"zero":false,"nice":false}},
"y":{"field":"v","type":"quantitative"}}},
{"data":{"name":"ptsB"},"transform":[{"filter":"datum.g=='Benda'"},{"window":[{"op":"row_number","as":"i"}],"groupby":["c"]}],"mark":{"type":"circle","fill":"#E6197B"},"encoding":{
"x":{"field":"c","type":"nominal","scale":{"domain":["Pre-LD ANC","Nadir ANC","Month 1 ANC"]}},
"xOffset":{"field":"i","type":"quantitative","scale":{"range":[43,64],"zero":false,"nice":false}},
"y":{"field":"v","type":"quantitative"}}}
],
"resolve":{"scale":{"xOffset":"independent"}}
}
],"spacing":141,"bounds":"flush","resolve":{"scale":{"fill":"independent"},"legend":{"fill":"independent"}}},
{"hconcat":[
{"width":129,"height":186,
"title":{"text":"C","dx":-30,"dy":3},
"layer":[
{"data":{"name":"boxC"},"transform":[{"filter":"datum.c=='CD19' && datum.g=='FC'"}],"mark":{"type":"rule","color":"#ececec"},"encoding":{"y":{"datum":300,"type":"quantitative"}}},
{"data":{"name":"boxC"},"transform":[{"filter":"datum.c=='CD19'"}],"mark":"rule","encoding":{
"x":{"field":"c","type":"nominal","scale":{"paddingInner":0,"paddingOuter":0.421,"align":0.271},"axis":{"title":null,"labelOffset":13,"labelFontSize":10}},
"xOffset":{"field":"g","type":"nominal","scale":{"domain":["FC","Benda"],"paddingInner":0.0625,"paddingOuter":0.125}},
"y":{"field":"lo","type":"quantitative","scale":{"domain":[-62,668],"zero":false,"nice":false},"axis":{"values":[0,200,400],"format":"d","title":"cells/microL","titleX":-26,"titleY":105,"titleFontSize":8.5}},
"y2":{"field":"hi"}}},
{"data":{"name":"boxC"},"transform":[{"filter":"datum.c=='CD19'"}],"mark":"bar","encoding":{
"x":{"field":"c","type":"nominal"},
"xOffset":{"field":"g","type":"nominal","scale":{"domain":["FC","Benda"],"paddingInner":0.0625,"paddingOuter":0.125}},
"y":{"field":"q1","type":"quantitative"},"y2":{"field":"q3"},
"fill":{"field":"g","type":"nominal","scale":{"domain":["FC","Benda"],"range":["#3C68AE","#E6197B"]},"legend":null}}},
{"data":{"name":"boxC"},"transform":[{"filter":"datum.c=='CD19'"}],"mark":{"type":"tick","size":30},"encoding":{
"x":{"field":"c","type":"nominal"},
"xOffset":{"field":"g","type":"nominal","scale":{"domain":["FC","Benda"],"paddingInner":0.0625,"paddingOuter":0.125}},
"y":{"field":"md","type":"quantitative"}}},
{"data":{"name":"ptsC"},"transform":[{"filter":"datum.c=='CD19' && datum.g=='FC'"},{"window":[{"op":"row_number","as":"i"}]}],"mark":{"type":"circle","fill":"#3C68AE"},"encoding":{
"x":{"field":"c","type":"nominal"},
"xOffset":{"field":"i","type":"quantitative","scale":{"range":[7,31],"zero":false,"nice":false}},
"y":{"field":"v","type":"quantitative"}}},
{"data":{"name":"ptsC"},"transform":[{"filter":"datum.c=='CD19' && datum.g=='Benda'"},{"window":[{"op":"row_number","as":"i"}]}],"mark":{"type":"circle","fill":"#E6197B"},"encoding":{
"x":{"field":"c","type":"nominal"},
"xOffset":{"field":"i","type":"quantitative","scale":{"range":[39,63],"zero":false,"nice":false}},
"y":{"field":"v","type":"quantitative"}}}
],
"resolve":{"scale":{"xOffset":"independent"}}
},
{"width":124,"height":186,
"layer":[
{"data":{"name":"boxC"},"transform":[{"filter":"datum.c=='CD3'"}],"mark":"rule","encoding":{
"x":{"field":"c","type":"nominal","scale":{"paddingInner":0,"paddingOuter":0.386,"align":0.213},"axis":{"title":null,"labelOffset":6.5,"labelFontSize":10}},
"xOffset":{"field":"g","type":"nominal","scale":{"domain":["FC","Benda"],"paddingInner":0.0625,"paddingOuter":0.125}},
"y":{"field":"lo","type":"quantitative","scale":{"domain":[-475,6706],"zero":false,"nice":false},"axis":{"values":[0,2000,4000],"format":"d","title":null}},
"y2":{"field":"hi"}}},
{"data":{"name":"boxC"},"transform":[{"filter":"datum.c=='CD3'"}],"mark":"bar","encoding":{
"x":{"field":"c","type":"nominal"},
"xOffset":{"field":"g","type":"nominal","scale":{"domain":["FC","Benda"],"paddingInner":0.0625,"paddingOuter":0.125}},
"y":{"field":"q1","type":"quantitative"},"y2":{"field":"q3"},
"fill":{"field":"g","type":"nominal","scale":{"domain":["FC","Benda"],"range":["#3C68AE","#E6197B"]},"legend":null}}},
{"data":{"name":"boxC"},"transform":[{"filter":"datum.c=='CD3'"}],"mark":{"type":"tick","size":30},"encoding":{
"x":{"field":"c","type":"nominal"},
"xOffset":{"field":"g","type":"nominal","scale":{"domain":["FC","Benda"],"paddingInner":0.0625,"paddingOuter":0.125}},
"y":{"field":"md","type":"quantitative"}}},
{"data":{"name":"ptsC"},"transform":[{"filter":"datum.c=='CD3' && datum.g=='FC'"},{"window":[{"op":"row_number","as":"i"}]}],"mark":{"type":"circle","fill":"#3C68AE"},"encoding":{
"x":{"field":"c","type":"nominal"},
"xOffset":{"field":"i","type":"quantitative","scale":{"range":[7,31],"zero":false,"nice":false}},
"y":{"field":"v","type":"quantitative"}}},
{"data":{"name":"ptsC"},"transform":[{"filter":"datum.c=='CD3' && datum.g=='Benda'"},{"window":[{"op":"row_number","as":"i"}]}],"mark":{"type":"circle","fill":"#E6197B"},"encoding":{
"x":{"field":"c","type":"nominal"},
"xOffset":{"field":"i","type":"quantitative","scale":{"range":[39,63],"zero":false,"nice":false}},
"y":{"field":"v","type":"quantitative"}}}
],
"resolve":{"scale":{"xOffset":"independent"}}
},
{"width":140,"height":186,
"layer":[
{"data":{"name":"boxC"},"transform":[{"filter":"datum.c=='CD3/CD4' && datum.g=='FC'"}],"mark":{"type":"rule","color":"#ececec"},"encoding":{"y":{"datum":500,"type":"quantitative"}}},
{"data":{"name":"boxC"},"transform":[{"filter":"datum.c=='CD3/CD4'"}],"mark":"rule","encoding":{
"x":{"field":"c","type":"nominal","scale":{"paddingInner":0,"paddingOuter":0.5,"align":0.286},"axis":{"title":null,"labelOffset":1.3,"labelFontSize":10}},
"xOffset":{"field":"g","type":"nominal","scale":{"domain":["FC","Benda"],"paddingInner":0.0625,"paddingOuter":0.125}},
"y":{"field":"lo","type":"quantitative","scale":{"domain":[-56,732],"zero":false,"nice":false},"axis":{"values":[0,200,400,600],"format":"d","title":null}},
"y2":{"field":"hi"}}},
{"data":{"name":"boxC"},"transform":[{"filter":"datum.c=='CD3/CD4'"}],"mark":"bar","encoding":{
"x":{"field":"c","type":"nominal"},
"xOffset":{"field":"g","type":"nominal","scale":{"domain":["FC","Benda"],"paddingInner":0.0625,"paddingOuter":0.125}},
"y":{"field":"q1","type":"quantitative"},"y2":{"field":"q3"},
"fill":{"field":"g","type":"nominal","scale":{"domain":["FC","Benda"],"range":["#3C68AE","#E6197B"]},"legend":null}}},
{"data":{"name":"boxC"},"transform":[{"filter":"datum.c=='CD3/CD4'"}],"mark":{"type":"tick","size":30},"encoding":{
"x":{"field":"c","type":"nominal"},
"xOffset":{"field":"g","type":"nominal","scale":{"domain":["FC","Benda"],"paddingInner":0.0625,"paddingOuter":0.125}},
"y":{"field":"md","type":"quantitative"}}},
{"data":{"name":"ptsC"},"transform":[{"filter":"datum.c=='CD3/CD4' && datum.g=='FC'"},{"window":[{"op":"row_number","as":"i"}]}],"mark":{"type":"circle","fill":"#3C68AE"},"encoding":{
"x":{"field":"c","type":"nominal"},
"xOffset":{"field":"i","type":"quantitative","scale":{"range":[7,31],"zero":false,"nice":false}},
"y":{"field":"v","type":"quantitative"}}},
{"data":{"name":"ptsC"},"transform":[{"filter":"datum.c=='CD3/CD4' && datum.g=='Benda'"},{"window":[{"op":"row_number","as":"i"}]}],"mark":{"type":"circle","fill":"#E6197B"},"encoding":{
"x":{"field":"c","type":"nominal"},
"xOffset":{"field":"i","type":"quantitative","scale":{"range":[39,63],"zero":false,"nice":false}},
"y":{"field":"v","type":"quantitative"}}}
],
"resolve":{"scale":{"xOffset":"independent"}}
},
{"width":129,"height":186,
"layer":[
{"data":{"name":"boxC"},"transform":[{"filter":"datum.c=='CD3/CD8'"}],"mark":"rule","encoding":{
"x":{"field":"c","type":"nominal","scale":{"paddingInner":0,"paddingOuter":0.421,"align":0.271},"axis":{"title":null,"labelOffset":-1.3,"labelFontSize":10}},
"xOffset":{"field":"g","type":"nominal","scale":{"domain":["FC","Benda"],"paddingInner":0.0625,"paddingOuter":0.125}},
"y":{"field":"lo","type":"quantitative","scale":{"domain":[-490,6000],"zero":false,"nice":false},"axis":{"values":[0,1000,2000,3000,4000,5000],"format":"d","title":null}},
"y2":{"field":"hi"}}},
{"data":{"name":"boxC"},"transform":[{"filter":"datum.c=='CD3/CD8'"}],"mark":"bar","encoding":{
"x":{"field":"c","type":"nominal"},
"xOffset":{"field":"g","type":"nominal","scale":{"domain":["FC","Benda"],"paddingInner":0.0625,"paddingOuter":0.125}},
"y":{"field":"q1","type":"quantitative"},"y2":{"field":"q3"},
"fill":{"field":"g","type":"nominal","scale":{"domain":["FC","Benda"],"range":["#3C68AE","#E6197B"]},"legend":null}}},
{"data":{"name":"boxC"},"transform":[{"filter":"datum.c=='CD3/CD8'"}],"mark":{"type":"tick","size":30},"encoding":{
"x":{"field":"c","type":"nominal"},
"xOffset":{"field":"g","type":"nominal","scale":{"domain":["FC","Benda"],"paddingInner":0.0625,"paddingOuter":0.125}},
"y":{"field":"md","type":"quantitative"}}},
{"data":{"name":"ptsC"},"transform":[{"filter":"datum.c=='CD3/CD8' && datum.g=='FC'"},{"window":[{"op":"row_number","as":"i"}]}],"mark":{"type":"circle","fill":"#3C68AE"},"encoding":{
"x":{"field":"c","type":"nominal"},
"xOffset":{"field":"i","type":"quantitative","scale":{"range":[7,31],"zero":false,"nice":false}},
"y":{"field":"v","type":"quantitative"}}},
{"data":{"name":"ptsC"},"transform":[{"filter":"datum.c=='CD3/CD8' && datum.g=='Benda'"},{"window":[{"op":"row_number","as":"i"}]}],"mark":{"type":"circle","fill":"#E6197B"},"encoding":{
"x":{"field":"c","type":"nominal"},
"xOffset":{"field":"i","type":"quantitative","scale":{"range":[39,63],"zero":false,"nice":false}},
"y":{"field":"v","type":"quantitative"}}}
],
"resolve":{"scale":{"xOffset":"independent"}}
},
{"width":125,"height":186,
"layer":[
{"data":{"name":"boxC"},"transform":[{"filter":"datum.c=='Absolute lymphocytes'"}],"mark":"rule","encoding":{
"x":{"field":"c","type":"nominal","scale":{"paddingInner":0,"paddingOuter":0.393,"align":0.291},"axis":{"title":null,"labelOffset":6.3,"labelFontSize":10,"labelColor":"#000"}},
"xOffset":{"field":"g","type":"nominal","scale":{"domain":["FC","Benda"],"paddingInner":0.0625,"paddingOuter":0.125}},
"y":{"field":"lo","type":"quantitative","scale":{"domain":[-282,6913],"zero":false,"nice":false},"axis":{"values":[0,2000,4000,6000],"format":"d","title":null}},
"y2":{"field":"hi"}}},
{"data":{"name":"boxC"},"transform":[{"filter":"datum.c=='Absolute lymphocytes'"}],"mark":"bar","encoding":{
"x":{"field":"c","type":"nominal"},
"xOffset":{"field":"g","type":"nominal","scale":{"domain":["FC","Benda"],"paddingInner":0.0625,"paddingOuter":0.125}},
"y":{"field":"q1","type":"quantitative"},"y2":{"field":"q3"},
"fill":{"field":"g","type":"nominal","scale":{"domain":["FC","Benda"],"range":["#3C68AE","#E6197B"]},"legend":null}}},
{"data":{"name":"boxC"},"transform":[{"filter":"datum.c=='Absolute lymphocytes'"}],"mark":{"type":"tick","size":30},"encoding":{
"x":{"field":"c","type":"nominal"},
"xOffset":{"field":"g","type":"nominal","scale":{"domain":["FC","Benda"],"paddingInner":0.0625,"paddingOuter":0.125}},
"y":{"field":"md","type":"quantitative"}}},
{"data":{"name":"ptsC"},"transform":[{"filter":"datum.c=='Absolute lymphocytes' && datum.g=='FC'"},{"window":[{"op":"row_number","as":"i"}]}],"mark":{"type":"circle","fill":"#3C68AE"},"encoding":{
"x":{"field":"c","type":"nominal"},
"xOffset":{"field":"i","type":"quantitative","scale":{"range":[7,31],"zero":false,"nice":false}},
"y":{"field":"v","type":"quantitative"}}},
{"data":{"name":"ptsC"},"transform":[{"filter":"datum.c=='Absolute lymphocytes' && datum.g=='Benda'"},{"window":[{"op":"row_number","as":"i"}]}],"mark":{"type":"circle","fill":"#E6197B"},"encoding":{
"x":{"field":"c","type":"nominal"},
"xOffset":{"field":"i","type":"quantitative","scale":{"range":[39,63],"zero":false,"nice":false}},
"y":{"field":"v","type":"quantitative"}}}
],
"resolve":{"scale":{"xOffset":"independent"}}
},
{"width":96,"height":186,
"layer":[
{"data":{"name":"boxC"},"transform":[{"filter":"datum.c=='NK'"}],"mark":"rule","encoding":{
"x":{"field":"c","type":"nominal","scale":{"paddingInner":0,"paddingOuter":0.186,"align":0.442},"axis":{"title":null,"labelOffset":-6,"labelFontSize":10}},
"xOffset":{"field":"g","type":"nominal","scale":{"domain":["FC","Benda"],"paddingInner":0.0625,"paddingOuter":0.125}},
"y":{"field":"lo","type":"quantitative","scale":{"domain":[-28,742],"zero":false,"nice":false},"axis":{"values":[0,200,400,600],"format":"d","title":null}},
"y2":{"field":"hi"}}},
{"data":{"name":"boxC"},"transform":[{"filter":"datum.c=='NK'"}],"mark":"bar","encoding":{
"x":{"field":"c","type":"nominal"},
"xOffset":{"field":"g","type":"nominal","scale":{"domain":["FC","Benda"],"paddingInner":0.0625,"paddingOuter":0.125}},
"y":{"field":"q1","type":"quantitative"},"y2":{"field":"q3"},
"fill":{"field":"g","type":"nominal","scale":{"domain":["FC","Benda"],"range":["#3C68AE","#E6197B"]},"legend":null}}},
{"data":{"name":"boxC"},"transform":[{"filter":"datum.c=='NK'"}],"mark":{"type":"tick","size":30},"encoding":{
"x":{"field":"c","type":"nominal"},
"xOffset":{"field":"g","type":"nominal","scale":{"domain":["FC","Benda"],"paddingInner":0.0625,"paddingOuter":0.125}},
"y":{"field":"md","type":"quantitative"}}},
{"data":{"name":"ptsC"},"transform":[{"filter":"datum.c=='NK' && datum.g=='FC'"},{"window":[{"op":"row_number","as":"i"}]}],"mark":{"type":"circle","fill":"#3C68AE"},"encoding":{
"x":{"field":"c","type":"nominal"},
"xOffset":{"field":"i","type":"quantitative","scale":{"range":[7,31],"zero":false,"nice":false}},
"y":{"field":"v","type":"quantitative"}}},
{"data":{"name":"ptsC"},"transform":[{"filter":"datum.c=='NK' && datum.g=='Benda'"},{"window":[{"op":"row_number","as":"i"}]}],"mark":{"type":"circle","fill":"#E6197B"},"encoding":{
"x":{"field":"c","type":"nominal"},
"xOffset":{"field":"i","type":"quantitative","scale":{"range":[39,63],"zero":false,"nice":false}},
"y":{"field":"v","type":"quantitative"}}}
],
"resolve":{"scale":{"xOffset":"independent"}}
}
],"spacing":0,"bounds":"flush","resolve":{"scale":{"fill":"independent"},"legend":{"fill":"independent"}}}
],
"resolve":{"scale":{"fill":"independent"},"legend":{"fill":"independent"}},
"config":{
"font":"Liberation Sans",
"view":{"stroke":null},
"axis":{"grid":false,"ticks":false,"domainColor":"#333","domainWidth":1.2,"labelColor":"#4d4d4d","titleColor":"#111","titleFontWeight":"normal","titleFontSize":9,"titleBaseline":"middle","labelFont":"Liberation Sans","titleFont":"Liberation Sans"},
"axisX":{"labelAngle":0,"labelFontSize":9.5,"labelPadding":4},
"axisY":{"labelFontSize":9,"labelPadding":3},
"bar":{"stroke":"#555","strokeWidth":1},
"rule":{"color":"#333","strokeWidth":1},
"tick":{"color":"#333","thickness":2},
"circle":{"size":24,"stroke":"#111","strokeWidth":0.6,"opacity":1},
"title":{"font":"Liberation Sans","fontSize":20,"fontWeight":"bold","color":"#000","anchor":"start","frame":"group","offset":0,"baseline":"top"}
}
}
